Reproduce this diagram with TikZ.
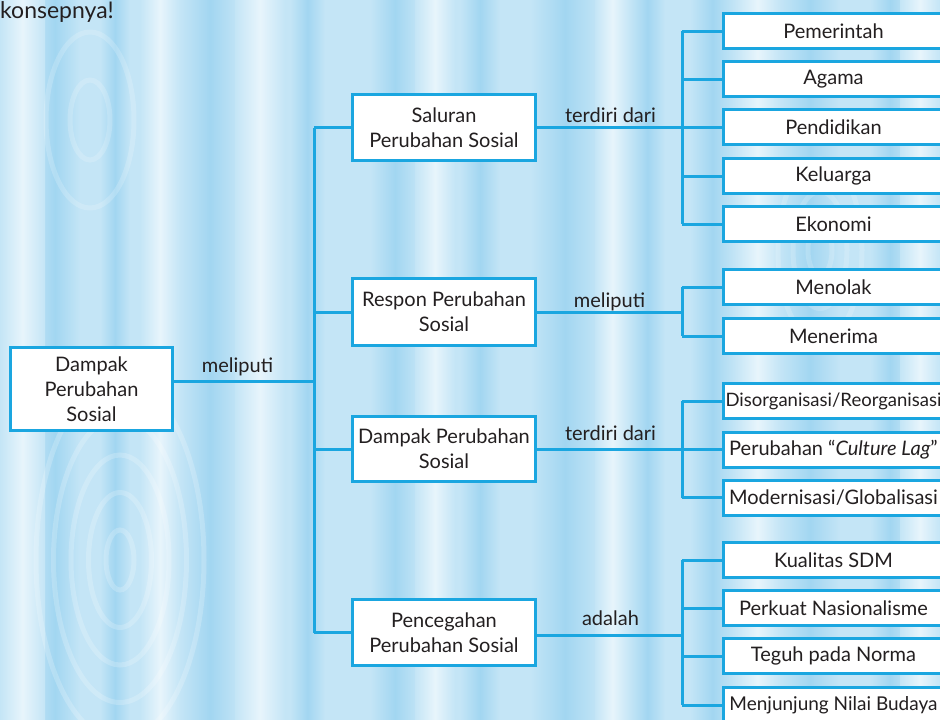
\documentclass[tikz,border=0pt]{standalone}
\usepackage{fontspec}
\setmainfont{Lato}
\definecolor{lineblue}{HTML}{1AA6E0}
\definecolor{bgblue}{HTML}{C4E5F6}
\definecolor{grain}{HTML}{A2D6F1}
\definecolor{ink}{HTML}{231F20}
\begin{document}
\begin{tikzpicture}[x=1pt,y=-1pt]
\tikzset{
  txt/.style={text=ink, font=\fontsize{20}{25}\selectfont},
  box/.style={txt, draw=lineblue, line width=3pt, fill=white, align=center, inner sep=0pt},
  midbox/.style={box, minimum width=183pt},
  leaf/.style={box, minimum width=221pt, minimum height=35pt, anchor=west},
  link/.style={draw=lineblue, line width=3pt},
  lbl/.style={txt, inner sep=0pt, anchor=base},
}
% page frame and wood-grain background
\useasboundingbox (0,0) rectangle (940,720);
\begin{scope}
\clip (0,0) rectangle (940,720);
\fill[bgblue] (0,0) rectangle (940,720);
\foreach \x/\w in {30/50, 100/30, 180/60, 290/35, 370/50, 460/40, 530/70, 630/35, 690/45, 780/60, 870/40}
  \shade[left color=bgblue, right color=bgblue, middle color=grain] (\x,0) rectangle ++(\w,720);
\foreach \x/\w in {0/45, 140/40, 235/50, 415/40, 595/35, 735/45, 900/40}
  \shade[left color=bgblue, right color=bgblue, middle color=white!60!bgblue] (\x,0) rectangle ++(\w,720);
\foreach \r in {20,45,70,95,120}
  \draw[white, opacity=0.2, line width=5pt] (120,560) ellipse ({\r*0.7} and {\r*1.5});
\foreach \r in {20,45,70}
  \draw[white, opacity=0.18, line width=5pt] (820,250) ellipse ({\r*0.6} and {\r*1.3});
\foreach \r in {25,55}
  \draw[white, opacity=0.18, line width=5pt] (90,120) ellipse ({\r*0.8} and {\r*1.6});

% heading fragment
\node[text=ink, font=\fontsize{23}{28}\selectfont, anchor=base west, inner sep=0pt] (head) at (0,18) {konsepnya!};

% root
\node[box, minimum width=162pt, minimum height=83pt] (root) at (91.5,389)
  {Dampak\\Perubahan\\Sosial};

% second level
\node[midbox, minimum height=66pt] (s1) at (444,127.5) {Saluran\\Perubahan Sosial};
\node[midbox, minimum height=67pt] (s2) at (444,312)   {Respon Perubahan\\Sosial};
\node[midbox, minimum height=65pt] (s3) at (444,449)   {Dampak Perubahan\\Sosial};
\node[midbox, minimum height=66pt] (s4) at (444,632.5) {Pencegahan\\Perubahan Sosial};

% leaves
\node[leaf] (a1) at (721.5,31)  {Pemerintah};
\node[leaf] (a2) at (721.5,79)  {Agama};
\node[leaf] (a3) at (721.5,127) {Pendidikan};
\node[leaf] (a4) at (721.5,176) {Keluarga};
\node[leaf] (a5) at (721.5,224) {Ekonomi};

\node[leaf] (b1) at (721.5,287) {Menolak};
\node[leaf] (b2) at (721.5,336) {Menerima};

\node[leaf] (c1) at (721.5,401)   {\fontsize{18.5}{25}\selectfont Disorganisasi/Reorganisasi};
\node[leaf] (c2) at (721.5,449.5) {Perubahan “\textit{Culture Lag}”};
\node[leaf] (c3) at (721.5,497.5) {Modernisasi/Globalisasi};

\node[leaf] (d1) at (721.5,560) {Kualitas SDM};
\node[leaf] (d2) at (721.5,608) {Perkuat Nasionalisme};
\node[leaf] (d3) at (721.5,656) {Teguh pada Norma};
\node[leaf] (d4) at (721.5,705) {\fontsize{19}{25}\selectfont Menjunjung Nilai Budaya};

% bus lines
\coordinate (busA) at (314,381);
\coordinate (busB) at (682,0);

\draw[link] (root.east |- busA) -- (busA);
\draw[link] (s1.west -| busA) -- (s4.west -| busA);
\foreach \n in {s1,s2,s3,s4}
  \draw[link] (\n.west) -- (\n.west -| busA);

% second-level to leaves
\draw[link] (s1.east) -- (s1.east -| busB);
\draw[link] (s2.east) -- (s2.east -| busB);
\draw[link] (s3.east) -- (s3.east -| busB);
\draw[link] ([yshift=-3pt]s4.east) -- ([yshift=-3pt]s4.east -| busB);

\draw[link] (a1.west -| busB) -- (a5.west -| busB);
\draw[link] (b1.west -| busB) -- (b2.west -| busB);
\draw[link] (c1.west -| busB) -- (c3.west -| busB);
\draw[link] (d1.west -| busB) -- (d4.west -| busB);
\foreach \n in {a1,a2,a3,a4,a5,b1,b2,c1,c2,c3,d1,d2,d3,d4}
  \draw[link] (\n.west -| busB) -- (\n.west);

% connector labels
\node[lbl] (l0) at (237.5,372) {meliputi};
\node[lbl] (l1) at (610.5,122) {terdiri dari};
\node[lbl] (l2) at (609.5,307) {meliputi};
\node[lbl] (l3) at (610.5,440) {terdiri dari};
\node[lbl] (l4) at (610.5,625) {adalah};
\end{scope}
\end{tikzpicture}
\end{document}
